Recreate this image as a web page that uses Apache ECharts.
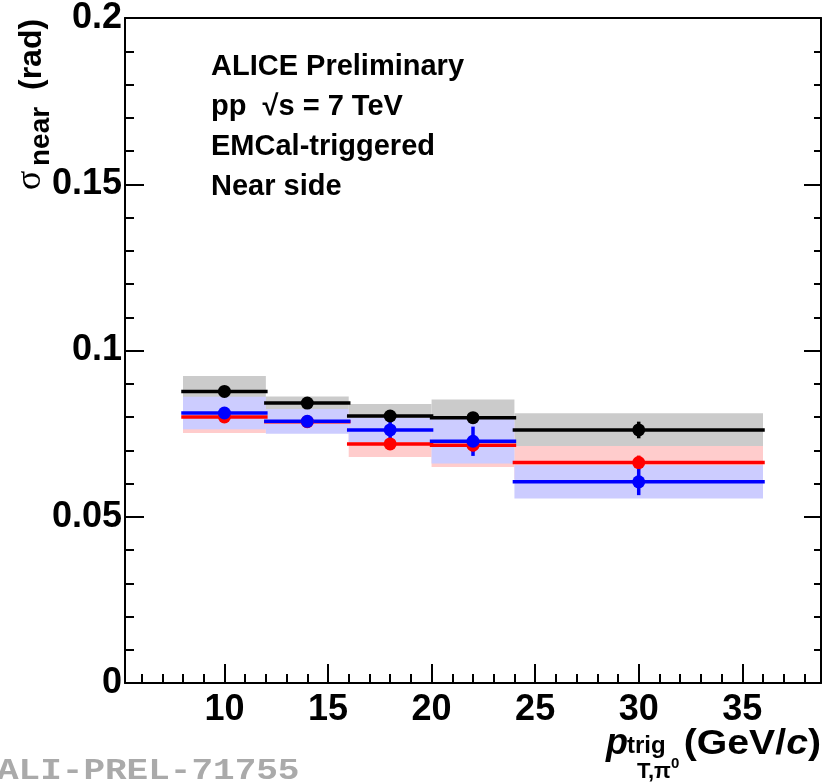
<!DOCTYPE html>
<html>
<head>
<meta charset="utf-8">
<script src="https://cdn.jsdelivr.net/npm/echarts@6/dist/echarts.min.js"></script>
<style>
  html, body { margin: 0; padding: 0; background: #fff; }
  #chart { width: 823px; height: 784px; }
</style>
</head>
<body>
<div id="chart"></div>
<script>
// bins in pT(trig) of the pi0
const binLow = [8, 12, 16, 20, 24]
const binHigh = [12, 16, 20, 24, 36]
const binCenter = [10, 14, 18, 22, 30]

// sigma near (rad): value, stat error, sys error
const blackVal = [0.0877, 0.0842, 0.0803, 0.0798, 0.0761]
const blackStat = [0.0010, 0.0010, 0.0010, 0.0012, 0.0025]
const blackSys = [0.0046, 0.0020, 0.0036, 0.0055, 0.0050]

const redVal = [0.0800, 0.0786, 0.0719, 0.0715, 0.0663]
const redStat = [0.0012, 0.0010, 0.0015, 0.0020, 0.0021]
const redSys = [0.0048, 0.0034, 0.0039, 0.0065, 0.0050]

const blueVal = [0.0812, 0.0787, 0.0761, 0.0727, 0.0605]
const blueStat = [0.0012, 0.0012, 0.0030, 0.0044, 0.0040]
const blueSys = [0.0049, 0.0037, 0.0036, 0.0067, 0.0050]

// axis ticks
const xLabels = [10, 15, 20, 25, 30, 35]
const xMinor = [6, 7, 8, 9, 11, 12, 13, 14, 16, 17, 18, 19, 21, 22, 23, 24, 26, 27, 28, 29, 31, 32, 33, 34, 36, 37, 38]

const FONT = '"Liberation Sans", Arial, sans-serif'

function boxSeries(vals, sys, color) {
  return {
    type: 'custom',
    silent: true,
    data: binLow.map((l, i) => [l, binHigh[i], vals[i], sys[i]]),
    renderItem(params, api) {
      const p1 = api.coord([api.value(0), api.value(2) + api.value(3)])
      const p2 = api.coord([api.value(1), api.value(2) - api.value(3)])
      return {
        type: 'rect',
        shape: { x: p1[0], y: p1[1], width: p2[0] - p1[0], height: p2[1] - p1[1] },
        style: { fill: color }
      }
    }
  }
}

function barSeries(vals, stat, color) {
  return {
    type: 'custom',
    silent: true,
    data: binLow.map((l, i) => [l, binHigh[i], vals[i], stat[i], binCenter[i]]),
    renderItem(params, api) {
      const a = api.coord([api.value(0), api.value(2)])
      const b = api.coord([api.value(1), api.value(2)])
      const up = api.coord([api.value(4), api.value(2) + api.value(3)])
      const dn = api.coord([api.value(4), api.value(2) - api.value(3)])
      return {
        type: 'group',
        children: [
          { type: 'line', shape: { x1: a[0], y1: a[1], x2: b[0], y2: b[1] }, style: { stroke: color, lineWidth: 3.5, lineCap: 'square' } },
          { type: 'line', shape: { x1: up[0], y1: up[1], x2: dn[0], y2: dn[1] }, style: { stroke: color, lineWidth: 3.5 } }
        ]
      }
    }
  }
}

function markerSeries(vals, color) {
  return {
    type: 'scatter',
    silent: true,
    symbol: 'circle',
    symbolSize: 13,
    itemStyle: { color: color, opacity: 1 },
    data: binCenter.map((c, i) => [c, vals[i]])
  }
}

const chart = echarts.init(document.getElementById('chart'))

const infoLines = ['ALICE Preliminary', 'pp  \u221As = 7 TeV', 'EMCal-triggered', 'Near side']

chart.setOption({
  animation: false,
  backgroundColor: '#fff',
  grid: { left: 125, right: 2, top: 17, bottom: 101 },
  xAxis: [
    {
      type: 'value', min: 5.2, max: 38.8, position: 'bottom',
      axisLine: { show: true, lineStyle: { color: '#000', width: 2 } },
      axisTick: { show: true, inside: true, length: 19, customValues: xLabels, lineStyle: { color: '#000', width: 2 } },
      axisLabel: { customValues: xLabels, color: '#000', fontFamily: FONT, fontWeight: 'bold', fontSize: 36, margin: 9 },
      splitLine: { show: false }
    },
    {
      type: 'value', min: 5.2, max: 38.8, position: 'bottom',
      axisLine: { show: false },
      axisTick: { show: true, inside: true, length: 9, customValues: xMinor, lineStyle: { color: '#000', width: 2 } },
      axisLabel: { show: false },
      splitLine: { show: false }
    },
    {
      type: 'value', min: 5.2, max: 38.8, position: 'top',
      axisLine: { show: true, lineStyle: { color: '#000', width: 2 } },
      axisTick: { show: false },
      axisLabel: { show: false },
      splitLine: { show: false }
    }
  ],
  yAxis: [
    {
      type: 'value', min: 0, max: 0.2, interval: 0.05, position: 'left',
      axisLine: { show: true, lineStyle: { color: '#000', width: 2 } },
      axisTick: { show: true, inside: true, length: 19, lineStyle: { color: '#000', width: 2 } },
      minorTick: { show: true, splitNumber: 5, length: 9, lineStyle: { color: '#000', width: 2 } },
      axisLabel: { color: '#000', fontFamily: FONT, fontWeight: 'bold', fontSize: 36, margin: 3 },
      splitLine: { show: false }
    },
    {
      type: 'value', min: 0, max: 0.2, interval: 0.05, position: 'right',
      axisLine: { show: true, lineStyle: { color: '#000', width: 2 } },
      axisTick: { show: true, inside: true, length: 17, lineStyle: { color: '#000', width: 2 } },
      minorTick: { show: true, splitNumber: 5, length: 7, lineStyle: { color: '#000', width: 2 } },
      axisLabel: { show: false },
      splitLine: { show: false }
    }
  ],
  series: [
    boxSeries(blackVal, blackSys, '#cbcbcb'),
    boxSeries(redVal, redSys, '#ffcccc'),
    boxSeries(blueVal, blueSys, '#ccccff'),
    barSeries(blackVal, blackStat, '#000000'),
    markerSeries(blackVal, '#000000'),
    barSeries(redVal, redStat, '#ff0000'),
    markerSeries(redVal, '#ff0000'),
    barSeries(blueVal, blueStat, '#0000ff'),
    markerSeries(blueVal, '#0000ff')
  ],
  graphic: [
    ...infoLines.map((t, i) => ({
      type: 'text', x: 211, y: 67 + 40 * i,
      style: { text: t, font: 'bold 29px ' + FONT, fill: '#000', verticalAlign: 'middle' }
    })),
    // y axis title, rotated
    {
      type: 'group', x: 31, y: 190, rotation: Math.PI / 2,
      children: [
        { type: 'text', x: 0, y: 0, style: { text: '\u03c3', font: '36px "Liberation Serif", serif', fill: '#000', verticalAlign: 'middle' } },
        { type: 'text', x: 24, y: 10, style: { text: 'near', font: 'bold 28px ' + FONT, fill: '#000', verticalAlign: 'middle' } },
        { type: 'text', x: 100, y: 1, style: { text: '(rad)', font: 'bold 32px ' + FONT, fill: '#000', verticalAlign: 'middle' } }
      ]
    },
    // x axis title
    { type: 'text', x: 628, y: 744, style: { text: 'p', font: 'italic bold 36px ' + FONT, fill: '#000', align: 'right', verticalAlign: 'middle' } },
    { type: 'text', x: 627, y: 746, style: { text: 'trig', font: 'bold 24px ' + FONT, fill: '#000', verticalAlign: 'middle' } },
    { type: 'text', x: 637, y: 772, style: { text: 'T,\u03c0', font: 'bold 22px ' + FONT, fill: '#000', verticalAlign: 'middle' } },
    { type: 'text', x: 671, y: 764, style: { text: '0', font: 'bold 15px ' + FONT, fill: '#000', verticalAlign: 'middle' } },
    {
      type: 'text', x: 821, y: 744, scaleX: 1.12,
      style: {
        text: '{n|(GeV/}{i|c}{n|)}', align: 'right', verticalAlign: 'middle',
        rich: {
          n: { font: 'bold 35px ' + FONT, fill: '#000' },
          i: { font: 'italic bold 35px ' + FONT, fill: '#000' }
        }
      }
    },
    // preliminary tag
    { type: 'text', x: -3, y: 771, scaleX: 1.2, style: { text: 'ALI-PREL-71755', font: 'bold 30px "Liberation Mono", monospace', fill: '#aaaaaa', verticalAlign: 'middle' } }
  ]
})
</script>
</body>
</html>
